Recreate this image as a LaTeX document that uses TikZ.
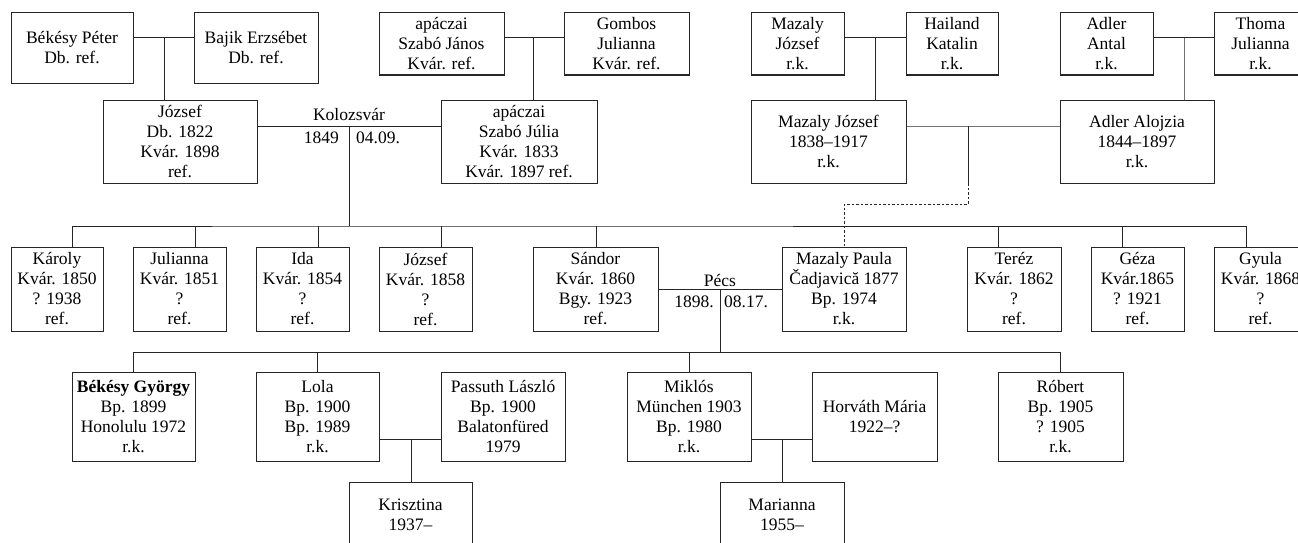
\documentclass[tikz,border=0pt]{standalone}
\usepackage{fontspec}
\setmainfont{Liberation Serif}
\begin{document}
\begin{tikzpicture}[x=1pt,y=-1pt,
  box/.style={draw=black!85, line width=1pt, inner sep=0pt, align=center,
    font=\fontsize{17.5}{20}\selectfont},
  lbl/.style={inner sep=0pt, font=\fontsize{17.5}{20}\selectfont},
  link/.style={draw=black!85, line width=1pt},
  glink/.style={draw=black!55, line width=0.9pt},
  dlink/.style={draw=black!85, line width=1pt, dash pattern=on 2.5pt off 2pt}]
\useasboundingbox (0,0) rectangle (1298,543);
\clip (0,0) rectangle (1298,543);
% top row
\node[box, minimum width=122, minimum height=70] (bpeter) at (72,48) {Békésy Péter\\Db. ref.};
\node[box, minimum width=124, minimum height=70] (bajik) at (256,48) {Bajik Erzsébet\\Db. ref.};
\node[box, minimum width=125, minimum height=62] (szjanos) at (441.5,44) {apáczai\\Szabó János\\Kvár. ref.};
\node[box, minimum width=125, minimum height=62] (gombos) at (626.5,44) {Gombos\\Julianna\\Kvár. ref.};
\node[box, minimum width=93, minimum height=62] (mazaly1) at (797.5,44) {Mazaly\\József\\r.k.};
\node[box, minimum width=92, minimum height=62] (hailand) at (952,44) {Hailand\\Katalin\\r.k.};
\node[box, minimum width=93, minimum height=62] (adlerant) at (1106.5,44) {Adler\\Antal\\r.k.};
\node[box, minimum width=93, minimum height=62] (thoma) at (1260.5,44) {Thoma\\Julianna\\r.k.};
% second row
\node[box, minimum width=154, minimum height=83] (jozsef) at (180,141.5) {József\\Db. 1822\\Kvár. 1898\\ref.};
\node[box, minimum width=156, minimum height=83] (julia) at (519,141.5) {apáczai\\Szabó Júlia\\Kvár. 1833\\Kvár. 1897 ref.};
\node[box, minimum width=155, minimum height=83] (mazaly2) at (828.5,141.5) {Mazaly József\\1838--1917\\r.k.};
\node[box, minimum width=154, minimum height=83] (alojzia) at (1137,141.5) {Adler Alojzia\\1844--1897\\r.k.};
% third row
\node[box, minimum width=92, minimum height=84] (karoly) at (57,289) {Károly\\Kvár. 1850\\? 1938\\ref.};
\node[box, minimum width=93, minimum height=84] (julianna) at (179.5,289) {Julianna\\Kvár. 1851\\?\\ref.};
\node[box, minimum width=93, minimum height=84] (ida) at (302.5,289) {Ida\\Kvár. 1854\\?\\ref.};
\node[box, minimum width=93, minimum height=84] (jozsef2) at (425.5,289) {József\\Kvár. 1858\\?\\ref.};
\node[box, minimum width=125, minimum height=84] (sandor) at (595.5,289) {Sándor\\Kvár. 1860\\Bgy. 1923\\ref.};
\node[box, minimum width=124, minimum height=84] (paula) at (844,289) {Mazaly Paula\\Čadjavică 1877\\Bp. 1974\\r.k.};
\node[box, minimum width=94, minimum height=84] (terez) at (1014,289) {Teréz\\Kvár. 1862\\?\\ref.};
\node[box, minimum width=93, minimum height=84] (geza) at (1137.5,289) {Géza\\Kvár.1865\\? 1921\\ref.};
\node[box, minimum width=93, minimum height=84] (gyula) at (1260.5,289) {Gyula\\Kvár. 1868\\?\\ref.};
% fourth row
\node[box, minimum width=123, minimum height=89] (gyorgy) at (133.5,416.5) {\textbf{Békésy György}\\Bp. 1899\\Honolulu 1972\\r.k.};
\node[box, minimum width=123, minimum height=89] (lola) at (317.5,416.5) {Lola\\Bp. 1900\\Bp. 1989\\r.k.};
\node[box, minimum width=124, minimum height=89] (passuth) at (503,416.5) {Passuth László\\Bp. 1900\\Balatonfüred\\1979};
\node[box, minimum width=124, minimum height=89] (miklos) at (689,416.5) {Miklós\\München 1903\\Bp. 1980\\r.k.};
\node[box, minimum width=125, minimum height=89] (horvath) at (874.5,416.5) {Horváth Mária\\1922--?};
\node[box, minimum width=125, minimum height=89] (robert) at (1060.5,416.5) {Róbert\\Bp. 1905\\? 1905\\r.k.};
% fifth row
\node[box, minimum width=123, minimum height=65] (krisztina) at (410.5,514.5) {Krisztina\\1937--};
\node[box, minimum width=124, minimum height=65] (marianna) at (782,514.5) {Marianna\\1955--};
% coordinates
\coordinate (m1) at (164,38);
\coordinate (m2) at (533,38);
\coordinate (m3) at (875,38);
\coordinate (m4) at (1184,38);
\coordinate (m5) at (349,126);
\coordinate (m6) at (968,126);
\coordinate (m7) at (720,289);
\coordinate (m8) at (411,439);
\coordinate (m9) at (782,439);
\coordinate (bar1) at (349,226);
\coordinate (bar2) at (720,352);
\coordinate (d1) at (968,183);
\coordinate (d2) at (968,204);
% marriages, top
\draw[link] (bpeter.east |- m1) -- (bajik.west |- m1);
\draw[link] (m1) -- (m1 |- jozsef.north);
\draw[link] (szjanos.east |- m2) -- (gombos.west |- m2);
\draw[link] (m2) -- (m2 |- julia.north);
\draw[link] (mazaly1.east |- m3) -- (hailand.west |- m3);
\draw[link] (m3) -- (m3 |- mazaly2.north);
\draw[link] (adlerant.east |- m4) -- (thoma.west |- m4);
\draw[glink] (m4) -- (m4 |- alojzia.north);
% Kolozsvar
\draw[link] (jozsef.east |- m5) -- (julia.west |- m5);
\draw[link] (m5) -- (bar1);
\node[lbl, anchor=base] (kol) at (349,120) {Kolozsvár};
\node[lbl, anchor=base east] (kold) at (339,143) {1849};
\node[lbl, anchor=base west] (kolm) at (356,143) {04.09.};
% Mazaly - Adler
\draw[glink] (mazaly2.east |- m6) -- (alojzia.west |- m6);
\draw[link] (m6) -- (d1);
\draw[dlink] (d1) -- (d2) -| (paula.north);
% siblings bar
\draw[link] (karoly.north -| 72,0) |- (bar1) -| (gyula.north -| 1246,0);
\draw[link] (julianna.north -| 195,0) -- (bar1 -| 195,0);
\draw[link] (ida.north -| 318,0) -- (bar1 -| 318,0);
\draw[link] (jozsef2.north -| 441,0) -- (bar1 -| 441,0);
\draw[link] (sandor.north -| 596,0) -- (bar1 -| 596,0);
\draw[link] (terez.north -| 998,0) -- (bar1 -| 998,0);
\draw[link] (geza.north -| 1122,0) -- (bar1 -| 1122,0);
% Pecs
\draw[link] (sandor.east) -- (paula.west);
\draw[link] (m7) -- (bar2);
\node[lbl, anchor=base] (pecs) at (720,286) {Pécs};
\node[lbl, anchor=base east] (pecsd) at (714,307) {1898.};
\node[lbl, anchor=base west] (pecsm) at (724,307) {08.17.};
% children bar
\draw[link] (gyorgy.north) |- (robert.north |- bar2) -- (robert.north);
\draw[link] (lola.north) -- (lola.north |- bar2);
\draw[link] (miklos.north) -- (miklos.north |- bar2);
% bottom marriages
\draw[link] (lola.east |- m8) -- (passuth.west |- m8);
\draw[link] (m8) -- (m8 |- krisztina.north);
\draw[link] (miklos.east |- m9) -- (horvath.west |- m9);
\draw[link] (m9) -- (m9 |- marianna.north);
\end{tikzpicture}
\end{document}
